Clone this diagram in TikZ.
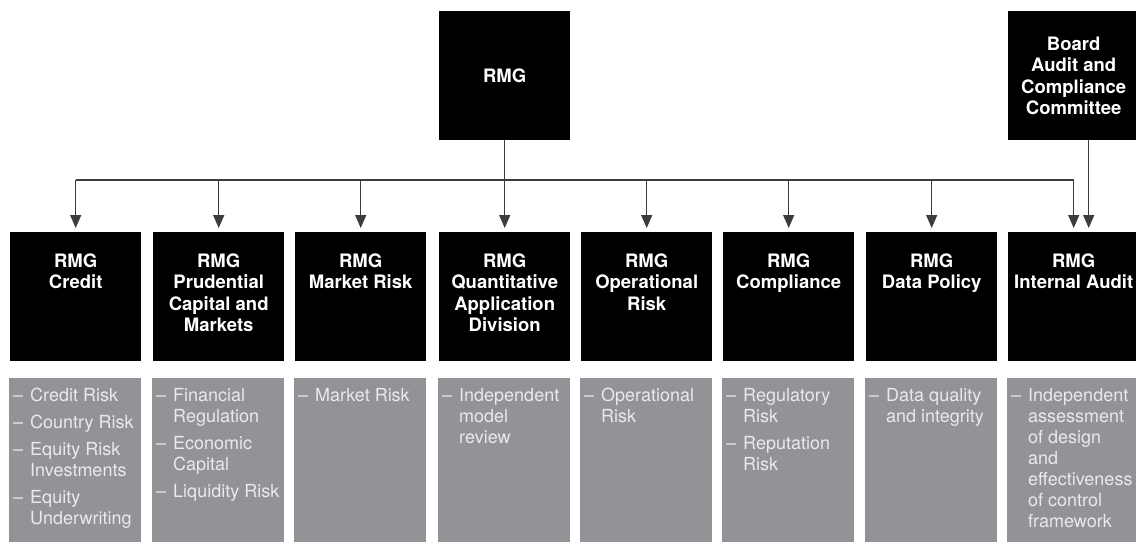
\documentclass[tikz,border=0pt]{standalone}
\usepackage{fontspec}
\setmainfont{TeX Gyre Heros}
\usepackage{xcolor}
\usetikzlibrary{arrows.meta}
\definecolor{riskgray}{RGB}{146,146,151}
\definecolor{itemgray}{RGB}{234,234,236}
\definecolor{linkgray}{RGB}{60,60,60}
\newcommand{\unittext}[1]{\parbox[c][129pt][t]{131pt}{\centering\rule{0pt}{35pt}#1}}
\newcommand{\risktext}[1]{\parbox[c][164pt][t]{132pt}{\vspace*{10pt}#1}}
\newcommand{\riskitem}[1]{\hangindent=21pt\hangafter=1\noindent\makebox[21pt][l]{\hspace{4pt}--}#1\par\vspace{6pt}}

\begin{document}
\begin{tikzpicture}[x=1pt,y=-1pt,
    topbox/.style={fill=black, text=white, inner sep=0pt, anchor=north west, minimum width=131pt, minimum height=129pt, align=center, font=\fontsize{18.5}{21.5}\selectfont\bfseries},
    unitbox/.style={fill=black, text=white, inner sep=0pt, anchor=north west, font=\fontsize{18.5}{21.5}\selectfont\bfseries},
    riskbox/.style={fill=riskgray, text=itemgray, inner sep=0pt, anchor=north west, font=\fontsize{18}{21}\selectfont},
    link/.style={draw=linkgray, line width=1.3pt, -{Triangle[width=11pt,length=13pt]}, shorten >=4pt}]
   \fill[white] (0,0) rectangle (1136,542);
   \useasboundingbox (0,0) rectangle (1136,542);
   \node[topbox] (rmg) at (439,11) {RMG};
   \node[topbox] (board) at (1008,11) {Board\\Audit and\\Compliance\\Committee};
   \node[unitbox] (cred) at (10,232) {\unittext{RMG\\Credit}};
   \node[unitbox] (pcm) at (153,232) {\unittext{RMG\\Prudential\\Capital and\\Markets}};
   \node[unitbox] (mkt) at (295,232) {\unittext{RMG\\Market Risk}};
   \node[unitbox] (qad) at (439,232) {\unittext{RMG\\Quantitative\\Application\\Division}};
   \node[unitbox] (ops) at (581,232) {\unittext{RMG\\Operational\\Risk}};
   \node[unitbox] (comp) at (723,232) {\unittext{RMG\\Compliance}};
   \node[unitbox] (data) at (866,232) {\unittext{RMG\\Data Policy}};
   \node[unitbox] (audit) at (1008,232) {\unittext{RMG\\Internal Audit}};
   \node[riskbox] (credrisk) at (9,378) {\risktext{\riskitem{Credit Risk}\riskitem{Country Risk}\riskitem{Equity Risk\newline Investments}\riskitem{Equity\newline Underwriting}}};
   \node[riskbox] (pcmrisk) at (152,378) {\risktext{\riskitem{Financial\newline Regulation}\riskitem{Economic\newline Capital}\riskitem{Liquidity Risk}}};
   \node[riskbox] (mktrisk) at (294,378) {\risktext{\riskitem{Market Risk}}};
   \node[riskbox] (qadrisk) at (438,378) {\risktext{\riskitem{Independent\newline model\newline review}}};
   \node[riskbox] (opsrisk) at (580,378) {\risktext{\riskitem{Operational\newline Risk}}};
   \node[riskbox] (comprisk) at (722,378) {\risktext{\riskitem{Regulatory\newline Risk}\riskitem{Reputation\newline Risk}}};
   \node[riskbox] (datarisk) at (865,378) {\risktext{\riskitem{Data quality\newline and integrity}}};
   \node[riskbox] (auditrisk) at (1007,378) {\risktext{\riskitem{Independent\newline assessment\newline of design\newline and\newline effectiveness\newline of control\newline framework}}};
   \coordinate (bus) at (0,180);
   \draw[link] (rmg.south) -- (qad.north);
   \draw[link] (cred.north |- bus) -- (audit.north |- bus) -- (audit.north);
   \draw[link] (cred.north |- bus) -- (cred.north);
   \draw[link] (pcm.north |- bus) -- (pcm.north);
   \draw[link] (mkt.north |- bus) -- (mkt.north);
   \draw[link] (ops.north |- bus) -- (ops.north);
   \draw[link] (comp.north |- bus) -- (comp.north);
   \draw[link] (data.north |- bus) -- (data.north);
   \draw[link] ([xshift=15pt]board.south) -- ([xshift=15pt]audit.north);
\end{tikzpicture}
\end{document}
